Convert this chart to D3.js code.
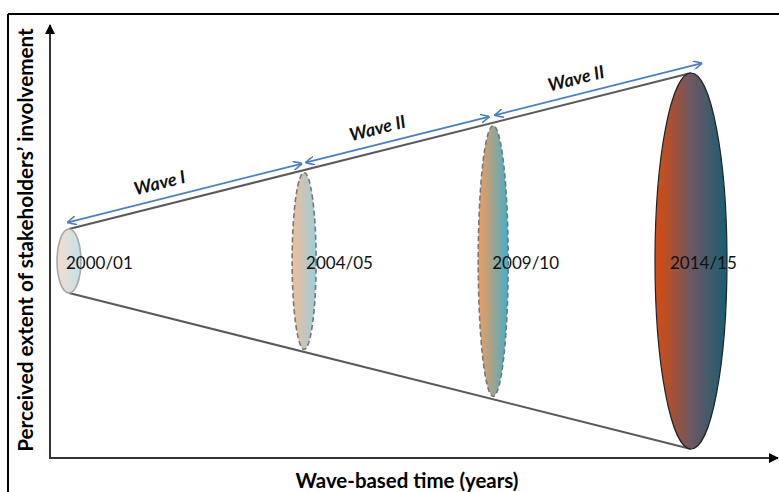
<!DOCTYPE html>
<html>
<head>
<meta charset="utf-8">
<script src="https://cdn.jsdelivr.net/npm/d3@7"></script>
<style>
body { margin: 0; background: #fff; }
svg { display: block; }
</style>
</head>
<body>
<svg width="779" height="492"></svg>
<script>
// data
let years = ["2000/01", "2004/05", "2009/10", "2014/15"]
let timePos = [0, 3.78, 6.82, 10]          // position on the wave-based time axis
let involvement = [17, 47, 72, 100]        // perceived extent (half height of each ellipse)
let waves = ["Wave I", "Wave II", "Wave II"]
let xTitle = "Wave-based time (years)"
let yTitle = "Perceived extent of stakeholders\u2019 involvement"

let svg = d3.select("svg")
let font = "Lato, 'Open Sans', sans-serif"

let x = d3.scaleLinear().domain([0, 10]).range([69, 691])
let r = d3.scaleLinear().domain([0, 100]).range([0, 188])
let cy = 261
let rxs = [12, 12, 15, 36]

// frame
svg.append("line").attr("x1", 8).attr("y1", 14).attr("x2", 779).attr("y2", 14)
    .attr("stroke", "#000").attr("stroke-width", 2)
svg.append("line").attr("x1", 8).attr("y1", 14).attr("x2", 8).attr("y2", 492)
    .attr("stroke", "#000").attr("stroke-width", 2)

// axes
let defs = svg.append("defs")
defs.append("marker").attr("id", "ax").attr("viewBox", "0 0 10 10")
    .attr("refX", 9).attr("refY", 5).attr("markerWidth", 5).attr("markerHeight", 5)
    .attr("orient", "auto")
    .append("path").attr("d", "M0 0 L10 5 L0 10 Z").attr("fill", "#000")

svg.append("line").attr("x1", 50).attr("y1", 458).attr("x2", 50).attr("y2", 25)
    .attr("stroke", "#333").attr("stroke-width", 2).attr("marker-end", "url(#ax)")
svg.append("line").attr("x1", 49).attr("y1", 458).attr("x2", 778).attr("y2", 458)
    .attr("stroke", "#333").attr("stroke-width", 2).attr("marker-end", "url(#ax)")

// gradients
let grads = [
    ["#f6dccd", "#c2e1eb"],
    ["#f0bd98", "#9ccfdc"],
    ["#f29c5a", "#45aecb"],
    ["#dc4a0c", "#6c5862", "#175d74"]
]
grads.forEach((g, i) => {
    let lg = defs.append("linearGradient").attr("id", "g" + i)
        .attr("x1", "0%").attr("x2", "100%").attr("y1", "0%").attr("y2", "0%")
    g.forEach((c, j) => {
        lg.append("stop").attr("offset", (j / (g.length - 1) * 100) + "%").attr("stop-color", c)
    })
})

// cone
let last = years.length - 1
svg.append("line")
    .attr("x1", x(timePos[0])).attr("y1", cy - r(involvement[0]))
    .attr("x2", x(timePos[last])).attr("y2", cy - r(involvement[last]))
    .attr("stroke", "#5a5a5a").attr("stroke-width", 2)
svg.append("line")
    .attr("x1", x(timePos[0])).attr("y1", cy + r(involvement[0]))
    .attr("x2", x(timePos[last])).attr("y2", cy + r(involvement[last]))
    .attr("stroke", "#5a5a5a").attr("stroke-width", 2)

// ellipses
let strokes = ["#a8a8a8", "#777", "#777", "#222"]
let dashes = [null, "5,3", "5,3", null]
years.forEach((yr, i) => {
    svg.append("ellipse")
        .attr("cx", x(timePos[i])).attr("cy", cy)
        .attr("rx", rxs[i]).attr("ry", r(involvement[i]))
        .attr("fill", "url(#g" + i + ")")
        .attr("stroke", strokes[i]).attr("stroke-width", i == 3 ? 1.2 : 1.6)
        .attr("stroke-dasharray", dashes[i])
})

// year labels
let labelDx = [-3, 2, -1, -21]
years.forEach((yr, i) => {
    svg.append("text")
        .attr("x", x(timePos[i]) + labelDx[i]).attr("y", cy + 8)
        .attr("font-family", font).attr("font-size", 17)
        .attr("fill", "#111")
        .text(yr)
})

// wave arrows
defs.append("marker").attr("id", "ah").attr("viewBox", "0 0 10 10")
    .attr("refX", 10).attr("refY", 5).attr("markerWidth", 9).attr("markerHeight", 9)
    .attr("markerUnits", "userSpaceOnUse").attr("orient", "auto-start-reverse")
    .append("path").attr("d", "M0 0 L10 5 L0 10").attr("fill", "none")
    .attr("stroke", "#4a7fc4").attr("stroke-width", 1.8)

let topY = t => {
    let k = (t - timePos[0]) / (timePos[last] - timePos[0])
    return cy - r(involvement[0] + k * (involvement[last] - involvement[0]))
}
let ends = [[-0.03, 3.75], [3.8, 6.76], [6.84, 10.18]]
waves.forEach((w, i) => {
    let a = ends[i][0], b = ends[i][1]
    svg.append("line")
        .attr("x1", x(a)).attr("y1", topY(a) - 7)
        .attr("x2", x(b)).attr("y2", topY(b) - 7)
        .attr("stroke", "#4a7fc4").attr("stroke-width", 1.8)
        .attr("marker-start", "url(#ah)").attr("marker-end", "url(#ah)")
    let m = a + (b - a) * 0.4
    let ang = Math.atan2(topY(b) - topY(a), x(b) - x(a)) * 180 / Math.PI
    svg.append("text")
        .attr("transform", `translate(${x(m)},${topY(m) - 17}) rotate(${ang})`)
        .attr("text-anchor", "middle")
        .attr("font-family", font).attr("font-size", 18)
        .attr("font-weight", "bold").attr("font-style", "italic")
        .attr("fill", "#111")
        .text(w)
})

// axis titles
let xt = svg.append("text")
    .attr("x", 407).attr("y", 488)
    .attr("text-anchor", "middle")
    .attr("font-family", font).attr("font-size", 18).attr("font-weight", "bold")
    .attr("fill", "#000")
    .text(xTitle)
let yt = svg.append("text")
    .attr("transform", "translate(33,240) rotate(-90)")
    .attr("text-anchor", "middle")
    .attr("font-family", font).attr("font-size", 18).attr("font-weight", "bold")
    .attr("fill", "#000")
    .text(yTitle)

// fit titles to the widths in the picture
let fit = (sel, w) => {
    let len = sel.node().getComputedTextLength()
    sel.attr("font-size", 18 * w / len)
}
fit(xt, 223)
fit(yt, 424)
</script>
</body>
</html>
